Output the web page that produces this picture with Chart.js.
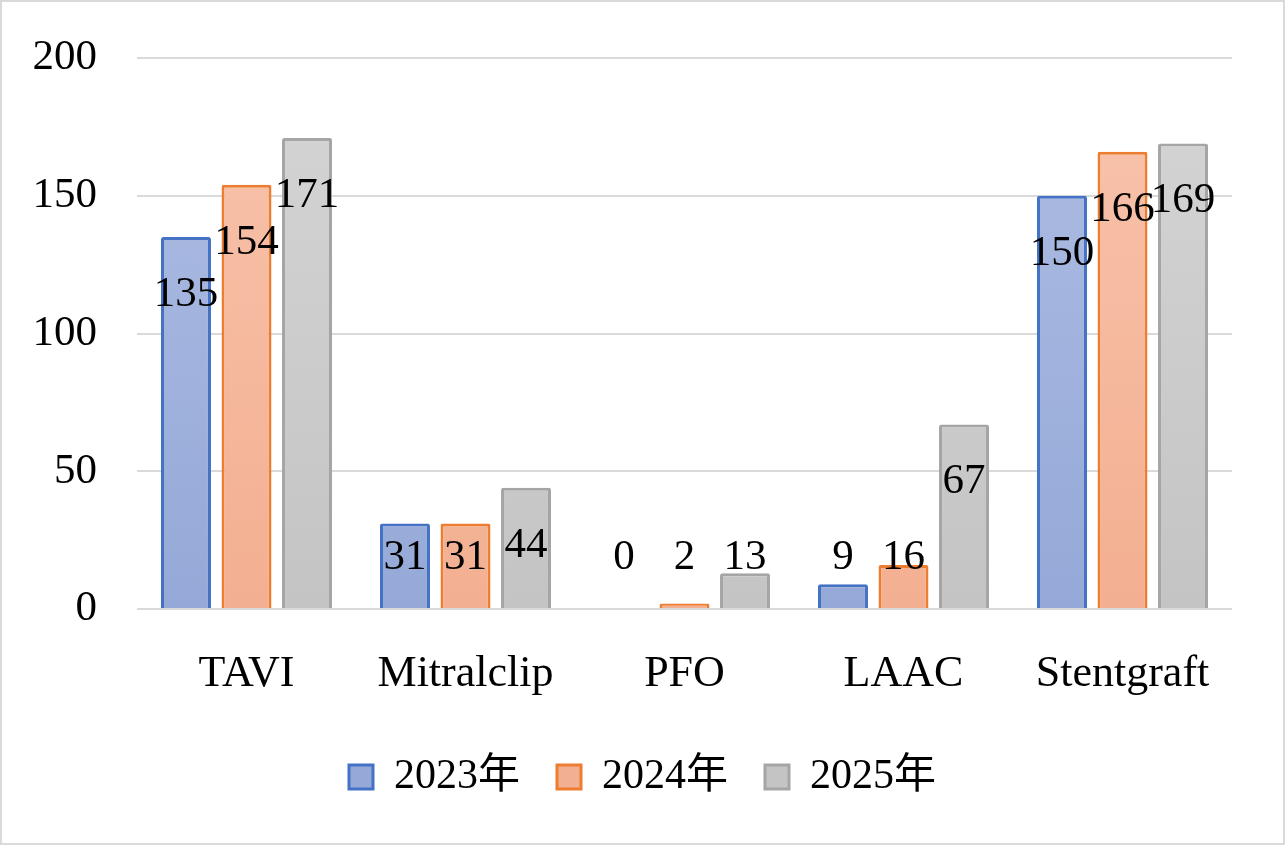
<!DOCTYPE html>
<html>
<head>
<meta charset="utf-8">
<script src="https://cdn.jsdelivr.net/npm/chart.js@4"></script>
<style>
  body { margin: 0; background: #fff; }
  #wrap { position: relative; width: 1285px; height: 845px; }
  #wrap::after {
    content: ""; position: absolute; inset: 0;
    border: 2px solid #d9d9d9; pointer-events: none;
  }
</style>
</head>
<body>
<div id="wrap"><canvas id="chart"></canvas></div>
<script>
/* ---- data ---- */
const categories = ["TAVI", "Mitralclip", "PFO", "LAAC", "Stentgraft"];
const seriesNames = ["2023年", "2024年", "2025年"];
const values2023 = [135, 31, 0, 9, 150];
const values2024 = [154, 31, 2, 16, 166];
const values2025 = [171, 44, 13, 67, 169];
const yTicks = [0, 50, 100, 150, 200];

const FONT = "'Liberation Serif', 'DejaVu Serif', 'Noto Sans CJK JP', serif";

// top/bottom colour of each series' gradient + border
const styles = [
  { top: "#aebde3", bottom: "#95a9d8", border: "#4472c4" },
  { top: "#f8c4ad", bottom: "#f3af91", border: "#ed7d31" },
  { top: "#d5d5d5", bottom: "#c4c4c4", border: "#a5a5a5" },
];

function gradientFor(i) {
  return (ctx) => {
    const { chart } = ctx;
    const area = chart.chartArea;
    if (!area) return styles[i].top;
    const g = chart.ctx.createLinearGradient(0, area.top, 0, area.bottom);
    g.addColorStop(0, styles[i].top);
    g.addColorStop(1, styles[i].bottom);
    return g;
  };
}

// value labels: near the top inside the bar, clamped above the base
const valueLabels = {
  id: "valueLabels",
  afterDatasetsDraw(chart) {
    const { ctx } = chart;
    const zero = chart.scales.y.getPixelForValue(0);
    ctx.save();
    ctx.font = "43px " + FONT;
    ctx.fillStyle = "#000";
    ctx.textAlign = "center";
    ctx.textBaseline = "alphabetic";
    chart.data.datasets.forEach((ds, di) => {
      chart.getDatasetMeta(di).data.forEach((bar, i) => {
        const y = Math.min(bar.y + 69, zero - 40);
        ctx.fillText(String(ds.data[i]), bar.x, y);
      });
    });
    ctx.restore();
  },
};

const datasets = [values2023, values2024, values2025].map((vals, i) => ({
  label: seriesNames[i],
  data: vals,
  backgroundColor: gradientFor(i),
  borderColor: styles[i].border,
  borderWidth: 3,
  borderRadius: 2,
  borderSkipped: "bottom",
  barPercentage: 0.826,
  categoryPercentage: 0.829,
}));

new Chart(document.getElementById("chart"), {
  type: "bar",
  data: { labels: categories, datasets },
  plugins: [valueLabels],
  options: {
    responsive: true,
    maintainAspectRatio: false,
    animation: false,
    layout: { padding: { top: 58, right: 0, left: 0, bottom: 37 } },
    plugins: {
      tooltip: { enabled: false },
      legend: {
        position: "bottom",
        labels: {
          boxWidth: 24,
          boxHeight: 24,
          padding: 37,
          color: "#000",
          font: { family: FONT, size: 42 },
        },
      },
    },
    scales: {
      x: {
        afterFit: (s) => { s.height = 110; },
        grid: { display: false },
        border: { display: false },
        ticks: { color: "#000", padding: 31, font: { family: FONT, size: 44 } },
      },
      y: {
        min: 0,
        max: 200,
        afterBuildTicks: (s) => { s.ticks = yTicks.map((v) => ({ value: v })); },
        afterFit: (s) => { s.width = 137; },
        grid: { color: "#d9d9d9", lineWidth: 2, drawTicks: false },
        border: { display: false },
        ticks: { color: "#000", padding: 40, font: { family: FONT, size: 43, lineHeight: 0.8 } },
      },
      // empty right-hand spacer so the plot ends where the reference does
      yRight: {
        type: "linear",
        position: "right",
        min: 0,
        max: 1,
        afterFit: (s) => { s.width = 53; },
        grid: { display: false },
        border: { display: false },
        ticks: { display: false },
      },
    },
  },
});
</script>
</body>
</html>
